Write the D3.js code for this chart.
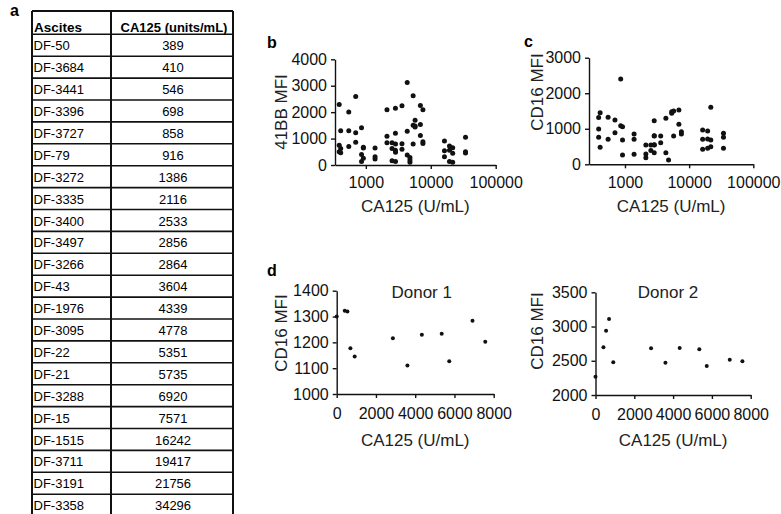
<!DOCTYPE html>
<html>
<head>
<meta charset="utf-8">
<script src="https://cdn.jsdelivr.net/npm/d3@7"></script>
<style>
  body { margin: 0; background: #fff; }
  svg { display: block; font-family: "Liberation Sans", Arial, sans-serif; }
  .axis path, .axis line { stroke: #111; stroke-width: 1.4px; }
  .axis text { font-size: 16px; fill: #111; font-family: "Liberation Sans", Arial, sans-serif; }
</style>
</head>
<body>
<svg id="fig" width="781" height="514"></svg>
<script>
// table (panel a)
var ascites = ["DF-50", "DF-3684", "DF-3441", "DF-3396", "DF-3727", "DF-79", "DF-3272", "DF-3335",
    "DF-3400", "DF-3497", "DF-3266", "DF-43", "DF-1976", "DF-3095", "DF-22", "DF-21", "DF-3288",
    "DF-15", "DF-1515", "DF-3711", "DF-3191", "DF-3358"];
var ca125 = [389, 410, 546, 698, 858, 916, 1386, 2116, 2533, 2856, 2864, 3604, 4339, 4778, 5351,
    5735, 6920, 7571, 16242, 19417, 21756, 34296];

// panel b: 41BB MFI per ascites sample (one value per donor)
var mfi41bb = [
    [2290, 750, 500], [1300, 620, 460], [2010, 1300, 700], [2590, 1220, 860],
    [1410, 400, 130], [670, 640, 260], [640, 310, 230], [2090, 1090, 840],
    [840, 620, 160], [2150, 1200, 560], [790, 480, 130], [2240, 800, 600],
    [3120, 1280, 380], [280, 190, 100], [2620, 1500, 790], [1690, 1440, 1480],
    [2250, 1530, 1120], [2090, 880, 810], [910, 540, 310], [720, 560, 130],
    [650, 440, 100], [1050, 500, 450]
];

// panel c: CD16 MFI per ascites sample
var mfiCd16 = [
    [1320, 994, 759], [1453, 478], [1322, 703], [1247, 891],
    [2400, 1088], [1059, 684, 262], [853, 703, 281], [544, 290, 187],
    [544, 390], [1228, 797, 544, 328], [800, 550], [797, 609],
    [1294, 328], [122], [1434, 1481], [1500, 797],
    [1528, 1125], [919, 853], [966, 703, 422], [937, 712, 450],
    [1603, 684, 497], [872, 759, 450]
];

// panel d: single donors
var donorCa125 = [0, 410, 546, 698, 916, 2864, 3604, 4339, 5351, 5735, 6920, 7571];
var donor1Cd16 = [1300, 1322, 1319, 1177, 1145, 1216, 1110, 1229, 1233, 1127, 1284, 1202];
var donor2Cd16 = [2268, 2697, 2940, 3111, 2478, 2683, 2472, 2687, 2668, 2424, 2516, 2493];

var logTicks = [1000, 10000, 100000];
var bYTicks = [0, 1000, 2000, 3000, 4000];
var cYTicks = [0, 1000, 2000, 3000];
var donorXTicks = [0, 2000, 4000, 6000, 8000];
var donor1YTicks = [1000, 1100, 1200, 1300, 1400];
var donor2YTicks = [2000, 2500, 3000, 3500];

var svg = d3.select("#fig");
svg.append("rect").attr("width", 781).attr("height", 514).attr("fill", "#fff");

// ---- table ----
var tbl = { left: 32, mid: 111, right: 233, top: 11, headH: 23.3, rowH: 21.9 };
var tableRows = ascites.map(function (d, i) { return { name: d, val: ca125[i] }; });

var tg = svg.append("g");
var bodyTop = tbl.top + tbl.headH;
var tblBottom = bodyTop + tableRows.length * tbl.rowH;

tg.append("text").attr("x", tbl.left + 2).attr("y", tbl.top + 20.5)
    .style("font-size", "13.5px").style("font-weight", "700").text("Ascites");
tg.append("text").attr("x", (tbl.mid + tbl.right) / 2 + 2).attr("y", tbl.top + 20.5)
    .attr("text-anchor", "middle")
    .style("font-size", "13px").style("font-weight", "700").text("CA125 (units/mL)");

var row = tg.selectAll(".row").data(tableRows).enter().append("g")
    .attr("class", "row")
    .attr("transform", function (d, i) { return "translate(0," + (bodyTop + i * tbl.rowH) + ")"; });
row.append("line")
    .attr("x1", tbl.left).attr("x2", tbl.right)
    .attr("stroke", "#111").attr("stroke-width", 1.6);
row.append("text").attr("x", tbl.left + 1.5).attr("y", 16)
    .style("font-size", "13px").text(function (d) { return d.name; });
row.append("text").attr("x", (tbl.mid + tbl.right) / 2 + 1).attr("y", 16)
    .attr("text-anchor", "middle")
    .style("font-size", "13px").text(function (d) { return d.val; });

tg.append("line").attr("x1", tbl.left).attr("x2", tbl.right).attr("y1", tbl.top).attr("y2", tbl.top)
    .attr("stroke", "#111").attr("stroke-width", 2);
[tbl.left, tbl.mid, tbl.right].forEach(function (xv) {
    tg.append("line").attr("x1", xv).attr("x2", xv).attr("y1", tbl.top).attr("y2", tblBottom)
        .attr("stroke", "#111").attr("stroke-width", 2);
});

// panel letters
function letter(t, x, y) {
    svg.append("text").attr("x", x).attr("y", y)
        .style("font-size", "16px").style("font-weight", "700").text(t);
}
letter("a", 10, 16);
letter("b", 267, 48);
letter("c", 524, 47);
letter("d", 267, 276);

// ---- scatter panels ----
function panel(cfg) {
    var g = svg.append("g");
    var x = cfg.x, y = cfg.y;
    var y0 = y.range()[0];
    var x0 = x.range()[0];

    g.append("g").attr("class", "axis")
        .attr("transform", "translate(0," + y0 + ")")
        .call(d3.axisBottom(x).tickValues(cfg.xTicks).tickFormat(d3.format("d"))
            .tickSize(4).tickSizeOuter(0).tickPadding(cfg.xPad));
    g.append("g").attr("class", "axis")
        .attr("transform", "translate(" + x0 + ",0)")
        .call(d3.axisLeft(y).tickValues(cfg.yTicks).tickFormat(d3.format("d"))
            .tickSize(4).tickSizeOuter(0).tickPadding(4));

    g.selectAll(".dot").data(cfg.points).enter().append("circle")
        .attr("class", "dot")
        .attr("cx", function (d) { return x(d[0]); })
        .attr("cy", function (d) { return y(d[1]); })
        .attr("r", cfg.r)
        .attr("fill", "#111");

    g.append("text")
        .attr("x", (x0 + x.range()[1]) / 2).attr("y", cfg.xTitleY)
        .attr("text-anchor", "middle")
        .style("font-size", "17px").style("fill", "#222")
        .text("CA125 (U/mL)");
    g.append("text")
        .attr("transform", "translate(" + cfg.yTitle[0] + "," + cfg.yTitle[1] + ") rotate(-90)")
        .attr("text-anchor", "middle").attr("dy", "0.35em")
        .style("font-size", "17px").style("fill", "#222")
        .text(cfg.yLabel);
    if (cfg.title) {
        g.append("text").attr("x", cfg.title[1]).attr("y", cfg.title[2])
            .attr("text-anchor", "middle")
            .style("font-size", "17px").style("fill", "#222")
            .text(cfg.title[0]);
    }
}

function flatPoints(vals) {
    var pts = [];
    vals.forEach(function (arr, i) {
        arr.forEach(function (v) { pts.push([ca125[i], v]); });
    });
    return pts;
}

panel({
    x: d3.scaleLog().domain([335, 100000]).range([335, 495.7]),
    y: d3.scaleLinear().domain([0, 4000]).range([165, 59.3]),
    xTicks: logTicks, yTicks: bYTicks, xPad: 8,
    points: flatPoints(mfi41bb), r: 2.5,
    xTitleY: 212, yTitle: [281, 112], yLabel: "41BB MFI"
});

panel({
    x: d3.scaleLog().domain([275, 100000]).range([589, 753.3]),
    y: d3.scaleLinear().domain([0, 3000]).range([164.3, 57.7]),
    xTicks: logTicks, yTicks: cYTicks, xPad: 8,
    points: flatPoints(mfiCd16), r: 2.5,
    xTitleY: 212, yTitle: [537, 92], yLabel: "CD16 MFI"
});

panel({
    x: d3.scaleLinear().domain([0, 8000]).range([336.7, 493.7]),
    y: d3.scaleLinear().domain([1000, 1400]).range([394, 290.7]),
    xTicks: donorXTicks, yTicks: donor1YTicks, xPad: 10,
    points: donorCa125.map(function (c, i) { return [c, donor1Cd16[i]]; }), r: 2,
    xTitleY: 446, yTitle: [281, 333], yLabel: "CD16 MFI",
    title: ["Donor 1", 421.7, 297.5]
});

panel({
    x: d3.scaleLinear().domain([0, 8000]).range([595.5, 750.7]),
    y: d3.scaleLinear().domain([2000, 3500]).range([395, 292.3]),
    xTicks: donorXTicks, yTicks: donor2YTicks, xPad: 10,
    points: donorCa125.map(function (c, i) { return [c, donor2Cd16[i]]; }), r: 2,
    xTitleY: 446, yTitle: [537, 331], yLabel: "CD16 MFI",
    title: ["Donor 2", 668, 297.5]
});
</script>
</body>
</html>
